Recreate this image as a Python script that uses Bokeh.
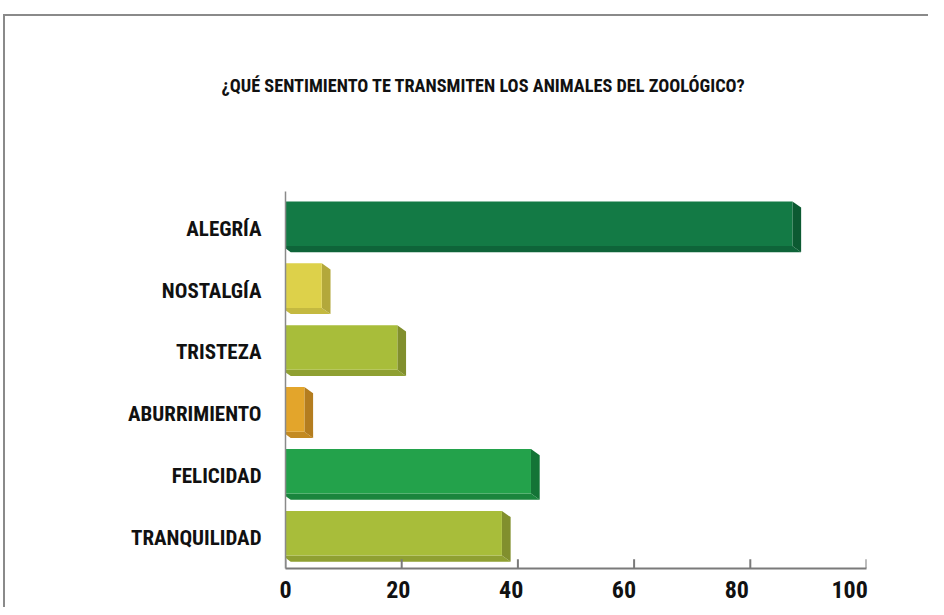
from bokeh.plotting import figure
from bokeh.models import FixedTicker, Range1d, LinearAxis
from bokeh.embed import file_html
from bokeh.resources import INLINE

# ---- data ----
title_text = "¿QUÉ SENTIMIENTO TE TRANSMITEN LOS ANIMALES DEL ZOOLÓGICO?"
categories = ["ALEGRÍA", "NOSTALGÍA", "TRISTEZA", "ABURRIMIENTO", "FELICIDAD", "TRANQUILIDAD"]
values = [88, 7, 20, 4, 43, 38]
front_colors = ["#137a45", "#ddd14a", "#a8bd3a", "#e3a52b", "#23a24b", "#a8bd3a"]
side_colors = ["#0c5a32", "#b3a83b", "#818f2d", "#b47d1f", "#147436", "#818f2d"]
bottom_colors = ["#0e6439", "#c4b940", "#8fa032", "#c38a22", "#1a853d", "#8fa032"]
x_ticks = [0, 20, 40, 60, 80, 100]

FONT = "Roboto Condensed"
Y0, Y1 = -0.57, 5.52

W, H = 928, 607
p = figure(width=W, height=H, output_backend="svg", toolbar_location=None,
           x_range=Range1d(0, 100), y_range=Range1d(Y0, Y1),
           x_axis_location=None, y_axis_location=None,
           min_border_left=285, min_border_right=62,
           min_border_top=191, min_border_bottom=39)
# label ranges: the 3-D front plane is slightly offset from the back plane
p.extra_x_ranges = {"lab": Range1d(0, 103)}
p.extra_y_ranges = {"lab": Range1d(Y0 + 0.08, Y1 + 0.08)}
p.styles = {"background": "linear-gradient(#8a8a8a,#8a8a8a) 3px 14px / 100% 2px no-repeat, "
                          "linear-gradient(#8a8a8a,#8a8a8a) 3px 14px / 2px 100% no-repeat, white"}
p.xgrid.visible = False
p.ygrid.visible = False
p.outline_line_color = None
p.background_fill_color = "white"
p.border_fill_color = None

n = len(categories)
ypos = [n - 1 - i for i in range(n)]
h = 0.72
dx = 1.5
dy = -0.1
x0 = -0.6

front_xs, front_ys, side_xs, side_ys, bot_xs, bot_ys = [], [], [], [], [], []
for v, c in zip(values, ypos):
    xr = v - dx / 2
    top, bot = c + h / 2, c - h / 2
    front_xs.append([x0, xr, xr, x0])
    front_ys.append([top, top, bot, bot])
    side_xs.append([xr, xr + dx, xr + dx, xr])
    side_ys.append([top, top + dy, bot + dy, bot])
    bot_xs.append([x0, xr, xr + dx, x0 + dx])
    bot_ys.append([bot, bot, bot + dy, bot + dy])

p.patches(bot_xs, bot_ys, fill_color=bottom_colors, line_color=None)
p.patches(side_xs, side_ys, fill_color=side_colors, line_color=None)
p.patches(front_xs, front_ys, fill_color=front_colors, line_color=None)

# inward tick marks of the value axis (back plane)
p.segment(x0=x_ticks, y0=[Y0] * len(x_ticks), x1=x_ticks,
          y1=[Y0 + 0.15] * len(x_ticks), line_color="#7a7a7a", line_width=2)

# x axis: line + labels (labels sit on the front plane)
xl = LinearAxis(x_range_name="lab", ticker=FixedTicker(ticks=x_ticks))
xl.axis_line_color = "#7a7a7a"
xl.axis_line_width = 2
xl.major_tick_line_color = None
xl.minor_tick_line_color = None
xl.major_label_text_font = FONT
xl.major_label_text_font_style = "bold"
xl.major_label_text_font_size = "24px"
xl.major_label_text_color = "#111111"
xl.major_label_standoff = 6
p.add_layout(xl, "below")

# y axis
ya = LinearAxis(y_range_name="lab", ticker=FixedTicker(ticks=ypos))
ya.major_label_overrides = {c: lab for c, lab in zip(ypos, categories)}
ya.major_tick_line_color = None
ya.minor_tick_line_color = None
ya.axis_line_color = "#8a8a8a"
ya.axis_line_width = 1.5
ya.major_label_text_font = FONT
ya.major_label_text_font_style = "bold"
ya.major_label_text_font_size = "21px"
ya.major_label_text_color = "#111111"
ya.major_label_standoff = 18
p.add_layout(ya, "left")

p.title.text = title_text
p.title.align = "left"
p.title.offset = -64
p.title.standoff = 10
p.title.padding = dict(left=0, right=0, top=0, bottom=91)
p.title.text_font = FONT
p.title.text_font_style = "bold"
p.title.text_font_size = "18.3px"
p.title.text_color = "#111111"

open("out.html", "w").write(file_html(p, INLINE))
